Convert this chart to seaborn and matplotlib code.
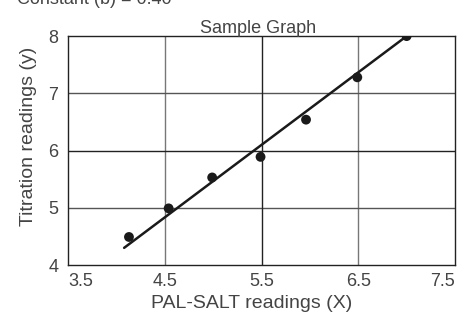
import matplotlib
matplotlib.use("Agg")
import matplotlib.pyplot as plt
import seaborn as sns
import pandas as pd

# Data
x_vals = [4.13, 4.54, 4.99, 5.49, 5.96, 6.49, 7.0]
y_vals = [4.49, 4.99, 5.53, 5.89, 6.54, 7.28, 8.0]
line_x = [4.08, 7.0]
line_y = [4.30, 8.0]
x_ticks = [3.5, 4.5, 5.5, 6.5, 7.5]
y_ticks = [4, 5, 6, 7, 8]
title = "Sample Graph"
x_label = "PAL-SALT readings (X)"
y_label = "Titration readings (y)"
top_note = "Constant (b) = 0.40"

sns.set_theme(style="white")
plt.rcParams['font.family'] = ['Liberation Sans', 'DejaVu Sans']

TXT = "#444444"

fig = plt.figure(figsize=(4.58, 3.14), dpi=100)
ax = fig.add_axes([0.1485, 0.156, 0.845, 0.729])

pts = pd.DataFrame({"x": x_vals, "y": y_vals})
ln = pd.DataFrame({"x": line_x, "y": line_y})

ax.set_xlim(3.5, 7.5)
ax.set_ylim(4, 8)
ax.set_xticks(x_ticks)
ax.set_yticks(y_ticks)
ax.set_xticklabels([f"{t:g}" for t in x_ticks])
ax.set_yticklabels([f"{t:g}" for t in y_ticks])
xt = ax.get_xticklabels()
xt[0].set_ha("left")
xt[-1].set_ha("right")

for xv in [4.5, 6.5]:
    ax.axvline(xv, color="#777777", lw=1.0, zorder=1)
for yv in [5, 7]:
    ax.axhline(yv, color="#555555", lw=1.0, zorder=1)
ax.axvline(5.5, color="#222222", lw=1.0, zorder=1)
ax.axhline(6, color="#222222", lw=1.0, zorder=1)

sns.lineplot(data=ln, x="x", y="y", ax=ax, color="#1a1a1a", lw=1.8, zorder=3)
sns.scatterplot(data=pts, x="x", y="y", ax=ax, color="#1a1a1a", s=50,
                edgecolor="none", zorder=4)

for s in ax.spines.values():
    s.set_color("#222222")
    s.set_linewidth(1.0)
    s.set_visible(True)

ax.tick_params(axis="both", length=0, labelsize=13, labelcolor=TXT)
ax.tick_params(axis="x", pad=6)
ax.tick_params(axis="y", pad=7)
ax.set_xlabel(x_label, fontsize=14, color=TXT)
ax.set_ylabel(y_label, fontsize=14, color=TXT)
ax.xaxis.set_label_coords(0.4755, -0.13)
ax.yaxis.set_label_coords(-0.08, 0.563)
ax.set_title(title, fontsize=13, color=TXT, pad=2, x=0.49)

fig.text(17 / 458, 1 - 4 / 314, top_note, fontsize=13, color=TXT,
         ha="left", va="baseline")

fig.savefig("out.png", dpi=100)
